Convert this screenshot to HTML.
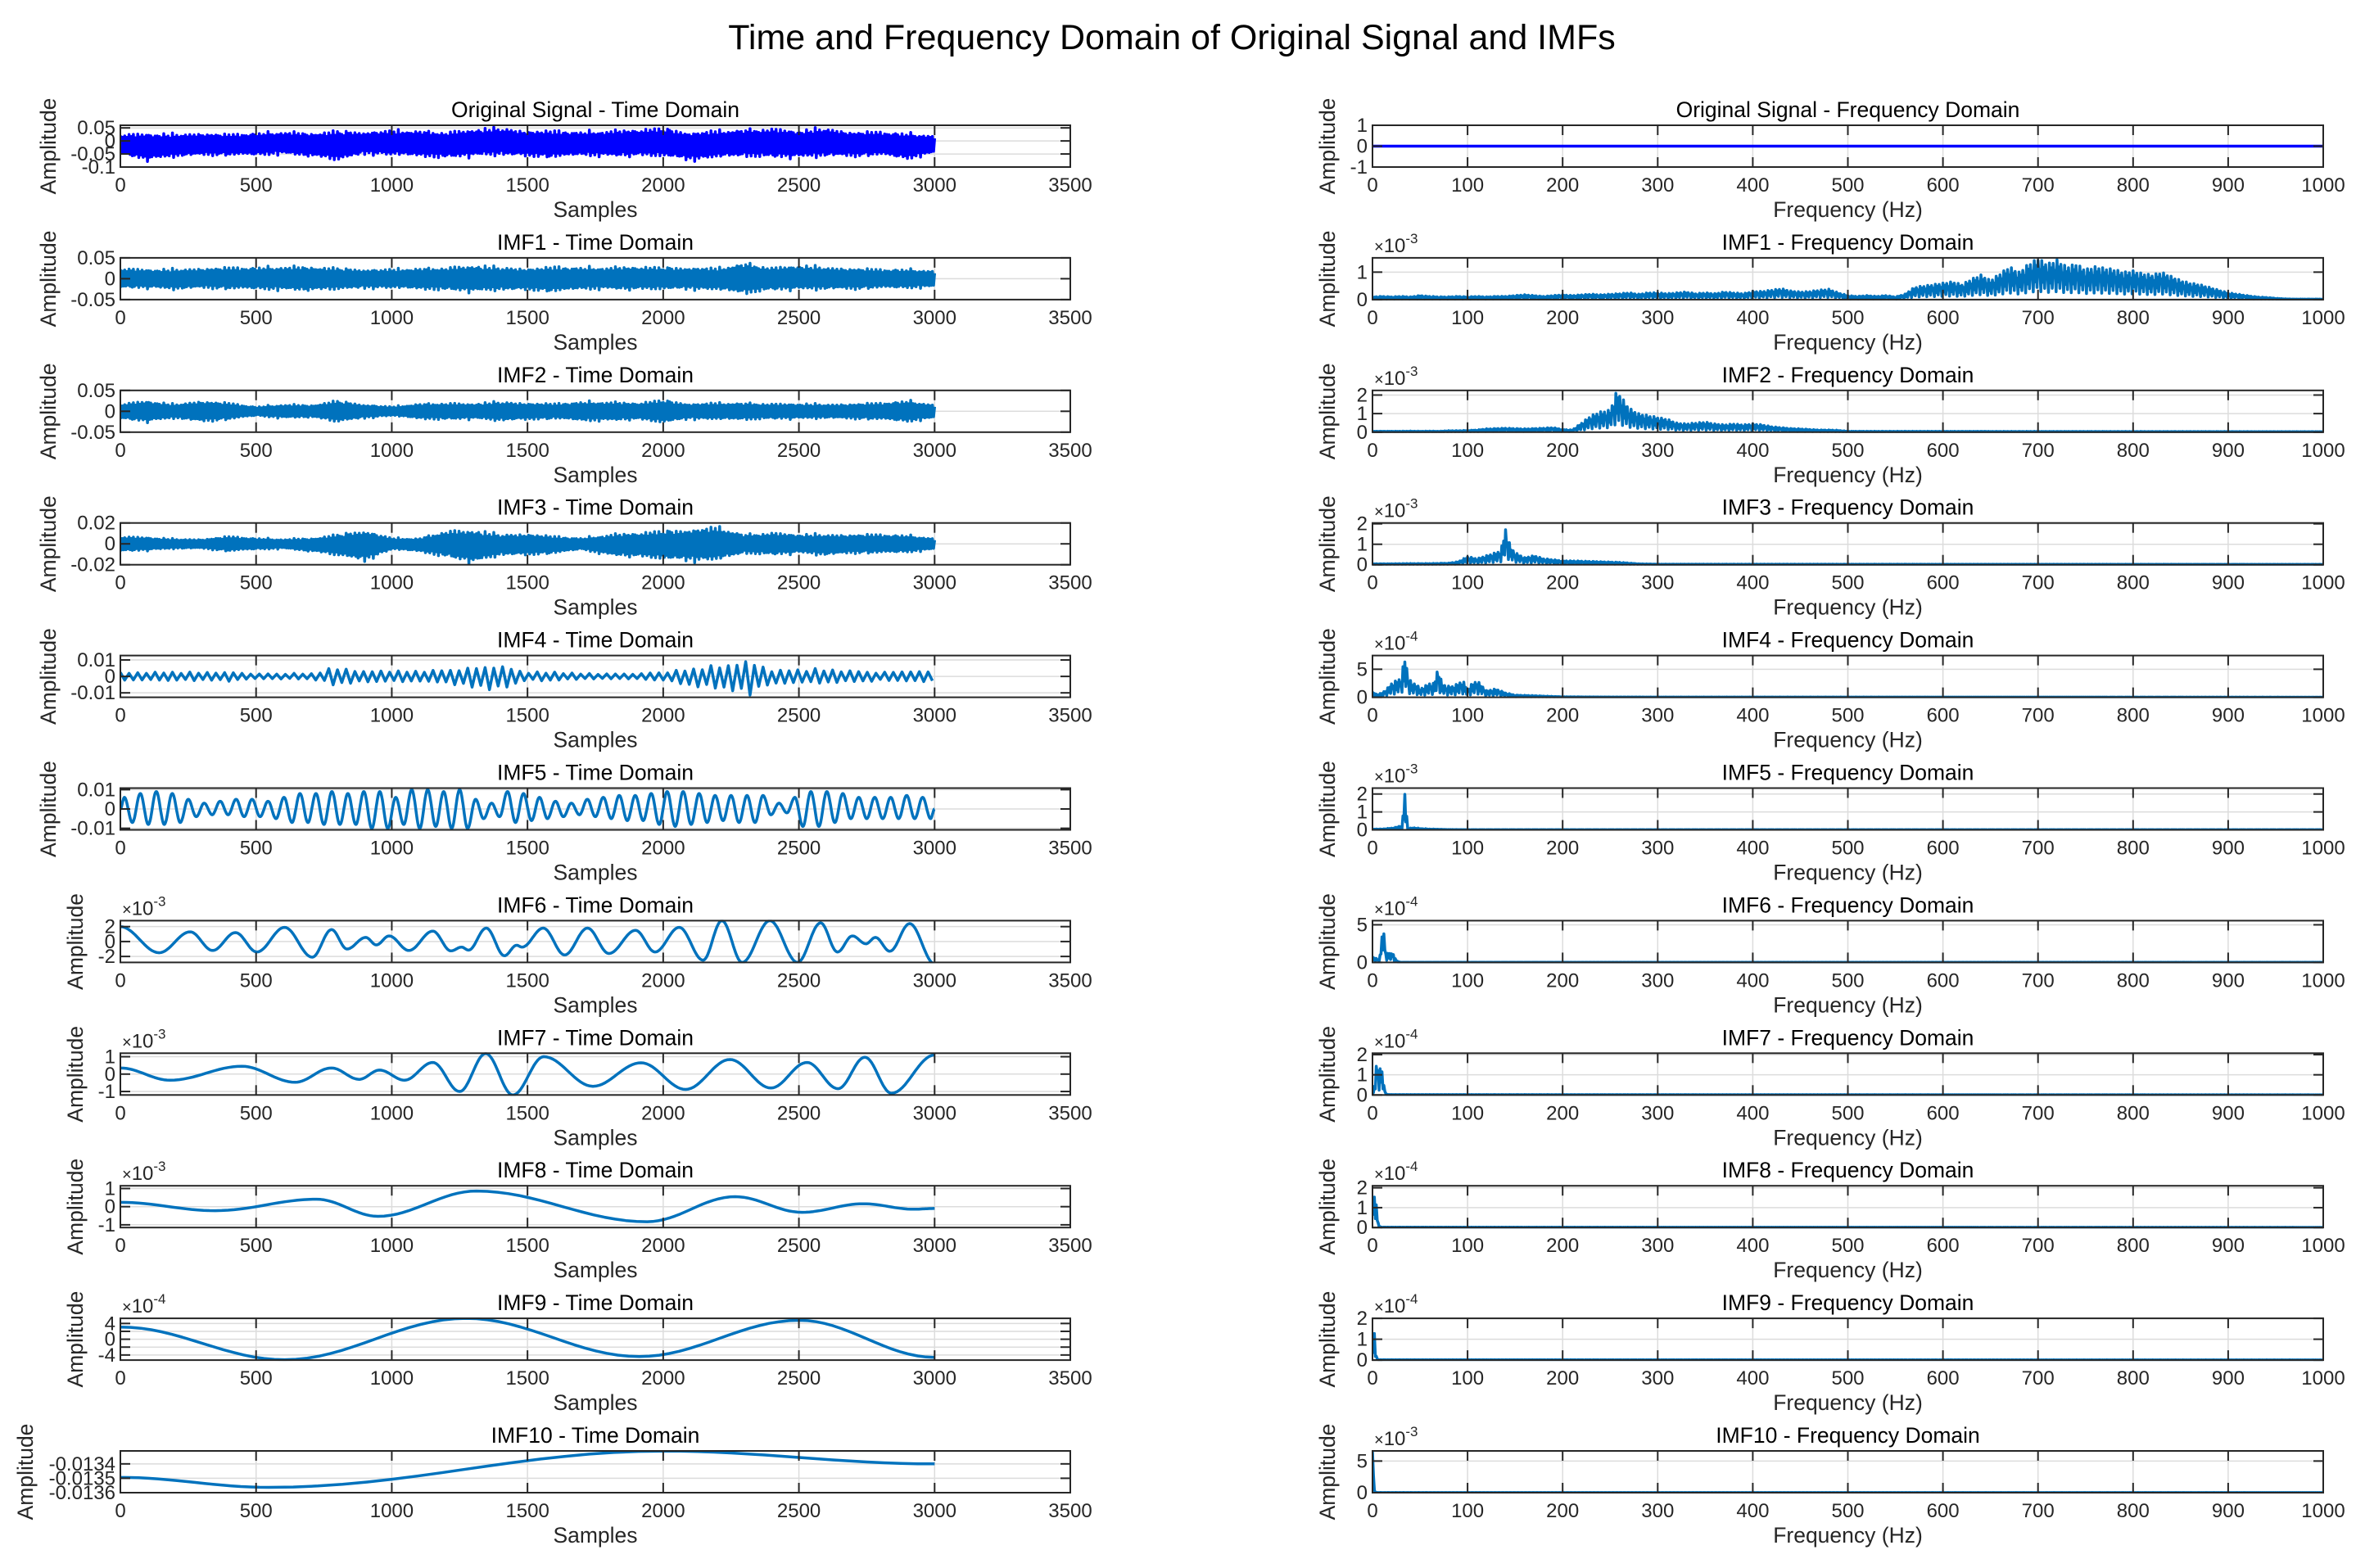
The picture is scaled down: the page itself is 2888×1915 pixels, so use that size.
<!DOCTYPE html>
<html><head><meta charset="utf-8">
<style>
html,body{margin:0;padding:0;background:#fff;}
svg{display:block;font-family:"Liberation Sans",Arial,sans-serif;}
</style></head>
<body>
<svg id="fig" xmlns="http://www.w3.org/2000/svg" width="2888" height="1915" viewBox="0 0 2888 1915">
<rect x="0" y="0" width="2888" height="1915" fill="#ffffff"/>
<text x="1431" y="60" font-size="43" text-anchor="middle" fill="#000">Time and Frequency Domain of Original Signal and IMFs</text>
</svg>
<script>
// ---------- time-domain envelope data (per 100 samples, 0..3000) ----------
const envSamples = [0,100,200,300,400,500,600,700,800,900,1000,1100,1200,1300,1400,1500,1600,1700,1800,1900,2000,2100,2200,2300,2400,2500,2600,2700,2800,2900,3000];
const origUpper = [0.030,0.035,0.030,0.035,0.030,0.035,0.040,0.035,0.045,0.040,0.045,0.045,0.040,0.050,0.055,0.045,0.045,0.040,0.045,0.050,0.055,0.040,0.045,0.050,0.055,0.045,0.055,0.040,0.040,0.035,0.025];
const origLower = [-0.055,-0.080,-0.065,-0.060,-0.060,-0.060,-0.055,-0.065,-0.080,-0.055,-0.060,-0.065,-0.070,-0.065,-0.060,-0.065,-0.070,-0.060,-0.065,-0.065,-0.065,-0.080,-0.070,-0.065,-0.070,-0.070,-0.065,-0.065,-0.060,-0.075,-0.050];
const imf1Upper = [0.028,0.025,0.025,0.028,0.030,0.030,0.032,0.032,0.028,0.025,0.025,0.028,0.030,0.035,0.030,0.028,0.032,0.030,0.030,0.032,0.030,0.030,0.028,0.042,0.030,0.035,0.030,0.028,0.025,0.025,0.022];
const imf1Lower = [-0.025,-0.025,-0.028,-0.025,-0.028,-0.028,-0.030,-0.032,-0.028,-0.025,-0.025,-0.028,-0.030,-0.035,-0.030,-0.030,-0.035,-0.028,-0.028,-0.030,-0.028,-0.028,-0.030,-0.040,-0.030,-0.030,-0.028,-0.028,-0.025,-0.025,-0.022];
const imf2Upper = [0.020,0.028,0.018,0.028,0.022,0.012,0.018,0.016,0.028,0.018,0.012,0.020,0.022,0.020,0.025,0.022,0.020,0.025,0.025,0.022,0.030,0.020,0.022,0.022,0.020,0.020,0.018,0.020,0.022,0.028,0.018];
const imf2Lower = [-0.020,-0.028,-0.018,-0.028,-0.022,-0.012,-0.018,-0.016,-0.028,-0.018,-0.012,-0.020,-0.022,-0.020,-0.025,-0.022,-0.020,-0.025,-0.025,-0.022,-0.030,-0.020,-0.022,-0.022,-0.020,-0.020,-0.018,-0.020,-0.022,-0.028,-0.018];
const imf3Upper = [0.008,0.007,0.005,0.005,0.008,0.006,0.005,0.006,0.010,0.015,0.006,0.006,0.014,0.015,0.010,0.011,0.008,0.006,0.010,0.012,0.014,0.016,0.018,0.010,0.012,0.010,0.010,0.010,0.010,0.009,0.006];
const imf3Lower = [-0.008,-0.007,-0.005,-0.005,-0.008,-0.006,-0.005,-0.008,-0.012,-0.018,-0.006,-0.008,-0.014,-0.020,-0.012,-0.012,-0.010,-0.006,-0.012,-0.014,-0.016,-0.018,-0.018,-0.010,-0.012,-0.010,-0.012,-0.010,-0.010,-0.009,-0.006];
const imf4Upper = [0.003,0.003,0.003,0.003,0.003,0.002,0.002,0.002,0.006,0.004,0.004,0.004,0.005,0.007,0.008,0.003,0.003,0.002,0.002,0.002,0.003,0.006,0.007,0.013,0.005,0.005,0.005,0.004,0.003,0.004,0.004];
const imf4Lower = [-0.003,-0.003,-0.003,-0.003,-0.003,-0.002,-0.002,-0.002,-0.006,-0.004,-0.004,-0.004,-0.005,-0.008,-0.009,-0.003,-0.003,-0.002,-0.002,-0.002,-0.003,-0.007,-0.008,-0.013,-0.006,-0.005,-0.005,-0.004,-0.003,-0.004,-0.004];
// IMF5: per-cycle peak / trough amplitudes (51 cycles over 3000 samples)
const imf5Peaks = [0.006,0.008,0.009,0.008,0.005,0.003,0.004,0.005,0.005,0.004,0.006,0.008,0.008,0.009,0.008,0.009,0.009,0.006,0.010,0.010,0.009,0.010,0.005,0.003,0.009,0.008,0.006,0.004,0.003,0.005,0.006,0.007,0.007,0.008,0.009,0.009,0.008,0.007,0.007,0.007,0.007,0.003,0.006,0.009,0.009,0.008,0.006,0.006,0.006,0.007,0.006];
const imf5Troughs = [-0.007,-0.008,-0.008,-0.007,-0.004,-0.003,-0.003,-0.004,-0.004,-0.005,-0.007,-0.007,-0.008,-0.008,-0.008,-0.010,-0.010,-0.008,-0.010,-0.009,-0.010,-0.010,-0.005,-0.004,-0.007,-0.006,-0.005,-0.004,-0.003,-0.004,-0.005,-0.006,-0.006,-0.008,-0.009,-0.008,-0.007,-0.006,-0.007,-0.007,-0.003,-0.002,-0.009,-0.009,-0.007,-0.005,-0.005,-0.005,-0.005,-0.005,-0.005];
// IMF6..IMF10: extrema (sample, value)
const imf6X = [0,143,257,340,424,503,605,707,778,835,904,943,990,1063,1151,1218,1257,1283,1348,1415,1460,1480,1558,1637,1721,1800,1898,1970,2059,2147,2216,2291,2393,2495,2580,2642,2697,2747,2782,2835,2908,3000];
const imf6Y = [2.0e-3,-1.5e-3,1.3e-3,-1.2e-3,1.2e-3,-1.4e-3,1.9e-3,-2.1e-3,1.6e-3,-1.0e-3,0.55e-3,-0.45e-3,0.75e-3,-1.2e-3,1.4e-3,-1.25e-3,-0.75e-3,-1.15e-3,1.8e-3,-1.9e-3,-0.5e-3,-0.75e-3,1.8e-3,-1.8e-3,1.8e-3,-1.6e-3,1.5e-3,-1.4e-3,1.9e-3,-2.5e-3,2.8e-3,-2.8e-3,2.8e-3,-2.8e-3,2.5e-3,-1.4e-3,0.75e-3,-0.3e-3,0.55e-3,-1.3e-3,2.4e-3,-3.0e-3];
const imf7X = [0,183,448,644,778,880,955,1047,1151,1250,1346,1446,1560,1741,1918,2083,2246,2397,2530,2644,2743,2841,3000];
const imf7Y = [0.35e-3,-0.35e-3,0.45e-3,-0.47e-3,0.35e-3,-0.3e-3,0.23e-3,-0.35e-3,0.67e-3,-1.0e-3,1.18e-3,-1.2e-3,1.0e-3,-0.7e-3,0.65e-3,-0.88e-3,0.84e-3,-0.8e-3,0.67e-3,-0.84e-3,0.97e-3,-1.1e-3,1.1e-3];
const imf8X = [0,350,723,949,1312,1941,2265,2511,2737,2923,3000];
const imf8Y = [0.24e-3,-0.22e-3,0.41e-3,-0.53e-3,0.86e-3,-0.83e-3,0.55e-3,-0.31e-3,0.16e-3,-0.14e-3,-0.1e-3];
const imf9X = [0,605,1273,1912,2501,3000];
const imf9Y = [3.1e-4,-5.2e-4,5.3e-4,-4.4e-4,4.8e-4,-4.6e-4];
const imf10X = [0,546,2000,3000];
const imf10Y = [-0.013494,-0.013563,-0.013311,-0.013400];
// ---------- frequency-domain data ----------
const freq10 = [];for(let i=0;i<=100;i++){freq10.push(i*10);} // 0..1000 Hz grid for IMF1 spectrum
const origFX = [0,1000];
const origFY = [0,0];
const imf1FY = [0.1e-3,0.12e-3,0.1e-3,0.12e-3,0.1e-3,0.15e-3,0.12e-3,0.1e-3,0.1e-3,0.12e-3,0.1e-3,0.12e-3,0.1e-3,0.12e-3,0.12e-3,
0.15e-3,0.18e-3,0.15e-3,0.12e-3,0.15e-3,0.18e-3,0.15e-3,0.18e-3,0.2e-3,0.18e-3,
0.2e-3,0.22e-3,0.25e-3,0.2e-3,0.25e-3,0.25e-3,0.22e-3,0.25e-3,0.28e-3,0.22e-3,0.25e-3,0.22e-3,0.28e-3,0.25e-3,0.22e-3,
0.3e-3,0.3e-3,0.35e-3,0.4e-3,0.32e-3,0.28e-3,0.3e-3,0.35e-3,0.38e-3,0.25e-3,
0.15e-3,0.12e-3,0.15e-3,0.12e-3,0.15e-3,0.1e-3,0.2e-3,0.45e-3,0.5e-3,0.55e-3,
0.6e-3,0.65e-3,0.55e-3,0.75e-3,0.9e-3,0.7e-3,0.95e-3,1.2e-3,1.0e-3,1.3e-3,
1.5e-3,1.3e-3,1.45e-3,1.2e-3,1.3e-3,1.1e-3,1.2e-3,1.15e-3,1.1e-3,1.0e-3,
1.05e-3,0.95e-3,0.9e-3,1.0e-3,0.85e-3,0.7e-3,0.6e-3,0.55e-3,0.45e-3,0.35e-3,
0.25e-3,0.2e-3,0.15e-3,0.1e-3,0.08e-3,0.05e-3,0.03e-3,0.02e-3,0.02e-3,0.02e-3,0.02e-3];
const imf2FX = [0,10,20,30,40,50,60,70,80,90,100,110,120,130,140,150,160,170,180,190,200,210,220,230,240,250,257,270,280,290,300,310,320,330,340,350,360,370,380,390,400,410,420,430,440,450,460,470,480,490,500,1000];
const imf2FY = [0.05e-3,0.05e-3,0.05e-3,0.05e-3,0.06e-3,0.05e-3,0.06e-3,0.05e-3,0.08e-3,0.08e-3,0.1e-3,0.12e-3,0.18e-3,0.2e-3,0.22e-3,0.2e-3,0.18e-3,0.2e-3,0.22e-3,0.25e-3,0.15e-3,0.12e-3,0.5e-3,0.9e-3,1.1e-3,1.2e-3,2.25e-3,1.3e-3,1.0e-3,0.9e-3,0.8e-3,0.7e-3,0.5e-3,0.45e-3,0.5e-3,0.55e-3,0.45e-3,0.4e-3,0.45e-3,0.4e-3,0.45e-3,0.4e-3,0.3e-3,0.25e-3,0.2e-3,0.18e-3,0.15e-3,0.12e-3,0.12e-3,0.1e-3,0.05e-3,0.03e-3];
const imf3FX = [0,20,40,60,80,90,100,110,120,130,135,140,145,150,160,170,180,190,200,220,240,260,280,300,1000];
const imf3FY = [0.05e-3,0.05e-3,0.06e-3,0.06e-3,0.08e-3,0.15e-3,0.4e-3,0.3e-3,0.45e-3,0.6e-3,0.7e-3,1.8e-3,0.9e-3,0.6e-3,0.35e-3,0.45e-3,0.3e-3,0.25e-3,0.2e-3,0.18e-3,0.15e-3,0.12e-3,0.05e-3,0.03e-3,0.02e-3];
const imf4FX = [0,5,10,15,20,25,30,34,38,42,46,50,55,60,65,69,73,78,85,90,95,100,105,110,120,130,140,150,170,200,250,1000];
const imf4FY = [1e-4,0.5e-4,0.8e-4,1.5e-4,2.5e-4,3e-4,3.5e-4,7.4e-4,3.5e-4,2.5e-4,2.5e-4,1.5e-4,2e-4,2.5e-4,2.5e-4,5.5e-4,2.5e-4,2e-4,2e-4,2.5e-4,3e-4,1.5e-4,2.5e-4,3e-4,1.2e-4,1.5e-4,0.8e-4,0.4e-4,0.3e-4,0.1e-4,0.05e-4,0.02e-4];
const imf5FX = [0,10,20,25,28,31,33,34,35,37,40,45,50,60,80,100,1000];
const imf5FY = [0.05e-3,0.05e-3,0.1e-3,0.15e-3,0.2e-3,0.25e-3,1.3e-3,2.33e-3,1.5e-3,0.1e-3,0.1e-3,0.12e-3,0.08e-3,0.05e-3,0.02e-3,0.01e-3,0.01e-3];
const imf6FX = [0,3,6,8,10,11,12,14,16,18,20,22,24,27,30,1000];
const imf6FY = [0.8e-4,0.6e-4,0.5e-4,1e-4,4e-4,5.5e-4,4e-4,1.5e-4,1.2e-4,1.4e-4,1.2e-4,1.4e-4,0.5e-4,0.1e-4,0.02e-4,0.01e-4];
const imf7FX = [0,2,4,5,6,7,8,9,10,11,12,14,16,20,1000];
const imf7FY = [0.05e-4,0.5e-4,1.5e-4,1.75e-4,1.6e-4,1.2e-4,1.3e-4,1.4e-4,1.35e-4,1.0e-4,0.5e-4,0.1e-4,0.03e-4,0.02e-4,0.01e-4];
const imf8FX = [0,1,2,3,4,5,6,8,10,1000];
const imf8FY = [0.6e-4,2.1e-4,1.8e-4,1.5e-4,1.2e-4,0.6e-4,0.3e-4,0.05e-4,0.02e-4,0.01e-4];
const imf9FX = [0,1,2,3,4,6,1000];
const imf9FY = [0.3e-4,2.0e-4,1.5e-4,0.6e-4,0.2e-4,0.02e-4,0.01e-4];
const imf10FX = [0,1,2,3,5,1000];
const imf10FY = [6.5e-3,6.0e-3,0.5e-3,0.05e-3,0.02e-3,0.01e-3];
// ---------- tick labels ----------
const timeXTicks = [0,500,1000,1500,2000,2500,3000,3500];
const freqXTicks = [0,100,200,300,400,500,600,700,800,900,1000];

const NS = 'http://www.w3.org/2000/svg';
const svg = document.getElementById('fig');
function el(tag, attrs, parent){
  const e = document.createElementNS(NS, tag);
  for (const k in attrs) e.setAttribute(k, attrs[k]);
  (parent||svg).appendChild(e);
  return e;
}
function lerp(xs, ys, x){
  if (x <= xs[0]) return ys[0];
  for (let i=1;i<xs.length;i++){
    if (x <= xs[i]){ const t=(x-xs[i-1])/(xs[i]-xs[i-1]); return ys[i-1]+t*(ys[i]-ys[i-1]); }
  }
  return ys[ys.length-1];
}
const BLUE = '#0072BD';
let clipId = 0;

function makeAxes(c){
  const g = el('g', {});
  
  
  const sx = v => c.x + (v - c.xlim[0]) / (c.xlim[1]-c.xlim[0]) * c.w;
  const sy = v => c.y + c.h - (v - c.ylim[0]) / (c.ylim[1]-c.ylim[0]) * c.h;
  el('rect', {x:c.x, y:c.y, width:c.w, height:c.h, fill:'#fff'}, g);
  c.xticks.forEach(t => el('line',{x1:sx(t),x2:sx(t),y1:c.y,y2:c.y+c.h,stroke:'#dcdcdc','stroke-width':1.5},g));
  c.yticks.forEach(t => el('line',{x1:c.x,x2:c.x+c.w,y1:sy(t),y2:sy(t),stroke:'#dcdcdc','stroke-width':1.5},g));
  clipId++;
  const cp = el('clipPath', {id:'cp'+clipId}, g);
  el('rect', {x:c.x, y:c.y-1, width:c.w, height:c.h+2}, cp);
  const sg = el('g', {'clip-path':'url(#cp'+clipId+')'}, g);
  const pts = c.series(sx, sy);
  const path = el('path', {d:'M'+pts.map(p=>p[0].toFixed(1)+','+p[1].toFixed(1)).join('L'), fill:'none', stroke:c.color||BLUE, 'stroke-width':c.lw||3.5, 'stroke-linejoin':'round'}, sg);
  
  
  el('rect', {x:c.x, y:c.y, width:c.w, height:c.h, fill:'none', stroke:'#262626','stroke-width':2}, g);
  const TL = 12;
  c.xticks.forEach(t => {
    el('line',{x1:sx(t),x2:sx(t),y1:c.y+c.h,y2:c.y+c.h-TL,stroke:'#262626','stroke-width':2},g);
    el('line',{x1:sx(t),x2:sx(t),y1:c.y,y2:c.y+TL,stroke:'#262626','stroke-width':2},g);
    const tx = el('text',{x:sx(t),y:c.y+c.h+30,'font-size':24,'text-anchor':'middle',fill:'#262626'},g);
    tx.textContent = String(t);
    
    
  });
  c.yticks.forEach((t,i) => {
    el('line',{x1:c.x,x2:c.x+TL,y1:sy(t),y2:sy(t),stroke:'#262626','stroke-width':2},g);
    el('line',{x1:c.x+c.w,x2:c.x+c.w-TL,y1:sy(t),y2:sy(t),stroke:'#262626','stroke-width':2},g);
    if (c.ylabels[i] === '') return;
    const ty = el('text',{x:c.x-6,y:sy(t)+8,'font-size':24,'text-anchor':'end',fill:'#262626'},g);
    ty.textContent = c.ylabels[i];
    
    
  });
  if (c.exp){
    const ex = el('text',{x:c.x+2,y:c.y-7,'font-size':24,fill:'#262626'},g);
    
    
    const s1 = el('tspan',{'font-size':20},ex); s1.textContent='\u00d7';
    const s2 = el('tspan',{},ex); s2.textContent='10';
    const s3 = el('tspan',{'font-size':17,dy:-11},ex); s3.textContent=c.exp;
  }
  const tt = el('text',{x:c.x+c.w/2,y:c.y-10,'font-size':26.5,'text-anchor':'middle',fill:'#000'},g);
  tt.textContent = c.title;
  
  
  const xl = el('text',{x:c.x+c.w/2,y:c.y+c.h+61,'font-size':26.5,'text-anchor':'middle',fill:'#262626'},g);
  xl.textContent = c.xlabel;
  
  
  const cy = c.y + c.h/2;
  const yl = el('text',{x:c.ylx,y:cy,'font-size':26.5,'text-anchor':'middle',fill:'#262626',transform:'rotate(-90 '+c.ylx+' '+cy+')'},g);
  yl.textContent = 'Amplitude';
  
  
}

// rendering texture pattern (not data)
const pattern = [1,0.45,0.85,0.3,0.95,0.6,0.75,0.2];
const noiseTex = [0.55,0.7,0.4,1.0,0.6,0.5,0.8,0.45,0.65,0.35,0.9,0.55,0.6,0.75,0.4,0.5,0.95,0.6,0.45,0.7,0.5,0.85,0.4,0.6,0.55,0.75,0.45,1.0,0.5,0.65,0.4,0.7,0.6,0.5,0.8,0.45,0.55];
function bandSeries(up, lo, step){
  return (sx, sy) => {
    const p=[]; let k=0;
    for (let s=0; s<=3000; s+=step){
      const u = lerp(envSamples, up, s), l = lerp(envSamples, lo, s);
      const mid = (u+l)/2;
      const f = 0.55 + 0.45*noiseTex[(k*7)%noiseTex.length]*pattern[(k>>1)%pattern.length];
      const v = (k%2===0) ? mid + (u-mid)*f : mid + (l-mid)*f;
      p.push([sx(s), sy(v)]); k++;
    }
    return p;
  };
}
function cosSeries(xs, ys){
  return (sx, sy) => {
    const p=[];
    for (let i=0;i<xs.length-1;i++){
      for (let j=0;j<16;j++){
        const t=j/16, w=(1-Math.cos(Math.PI*t))/2;
        p.push([sx(xs[i]+(xs[i+1]-xs[i])*t), sy(ys[i]+(ys[i+1]-ys[i])*w)]);
      }
    }
    p.push([sx(xs[xs.length-1]), sy(ys[ys.length-1])]);
    return p;
  };
}
function imf5Series(){
  const n = imf5Peaks.length, P = 3000/n;
  const xs=[0], ys=[0];
  for (let i=0;i<n;i++){ xs.push((i+0.25)*P); ys.push(imf5Peaks[i]); xs.push((i+0.75)*P); ys.push(imf5Troughs[i]); }
  xs.push(3000); ys.push(0);
  return cosSeries(xs, ys);
}
function specSeries(fx, fy){
  return (sx, sy) => {
    const p=[]; let k=0;
    for (let f=0; f<=1000; f+=1){
      const v = lerp(fx, fy, f);
      p.push([sx(f), sy(v*pattern[k%pattern.length])]); k++;
    }
    return p;
  };
}

const TLx = 147, TW = 1160, FLx = 1676, FW = 1161, H = 51;
const rowTop = k => 153 + 161.9*k;
const names = ['Original Signal','IMF1','IMF2','IMF3','IMF4','IMF5','IMF6','IMF7','IMF8','IMF9','IMF10'];
const timeCfg = [
  {ylim:[-0.1,0.06], yticks:[-0.1,-0.05,0,0.05], ylabels:['-0.1','-0.05','0','0.05'], series:bandSeries(origUpper,origLower,4), color:'#0000FF', ylx:68},
  {ylim:[-0.05,0.05], yticks:[-0.05,0,0.05], ylabels:['-0.05','0','0.05'], series:bandSeries(imf1Upper,imf1Lower,4), ylx:68},
  {ylim:[-0.05,0.05], yticks:[-0.05,0,0.05], ylabels:['-0.05','0','0.05'], series:bandSeries(imf2Upper,imf2Lower,4), ylx:68},
  {ylim:[-0.02,0.02], yticks:[-0.02,0,0.02], ylabels:['-0.02','0','0.02'], series:bandSeries(imf3Upper,imf3Lower,4), ylx:68},
  {ylim:[-0.0127,0.0127], yticks:[-0.01,0,0.01], ylabels:['-0.01','0','0.01'], series:bandSeries(imf4Upper,imf4Lower,16), ylx:68},
  {ylim:[-0.0108,0.0108], yticks:[-0.01,0,0.01], ylabels:['-0.01','0','0.01'], series:imf5Series(), ylx:68},
  {ylim:[-2.8e-3,2.8e-3], yticks:[-2e-3,0,2e-3], ylabels:['-2','0','2'], exp:'-3', series:cosSeries(imf6X,imf6Y), ylx:101},
  {ylim:[-1.2e-3,1.2e-3], yticks:[-1e-3,0,1e-3], ylabels:['-1','0','1'], exp:'-3', series:cosSeries(imf7X,imf7Y), ylx:101},
  {ylim:[-1.15e-3,1.15e-3], yticks:[-1e-3,0,1e-3], ylabels:['-1','0','1'], exp:'-3', series:cosSeries(imf8X,imf8Y), ylx:101},
  {ylim:[-5.3e-4,5.3e-4], yticks:[-4e-4,-2e-4,0,2e-4,4e-4], ylabels:['-4','','0','','4'], exp:'-4', series:cosSeries(imf9X,imf9Y), ylx:101},
  {ylim:[-0.0136,-0.01331], yticks:[-0.0136,-0.0135,-0.0134], ylabels:['-0.0136','-0.0135','-0.0134'], series:cosSeries(imf10X,imf10Y), ylx:40}
];
const freqCfg = [
  {ylim:[-1,1], yticks:[-1,0,1], ylabels:['-1','0','1'], series:specSeries(origFX,origFY), color:'#0000FF'},
  {ylim:[0,1.52e-3], yticks:[0,1e-3], ylabels:['0','1'], exp:'-3', series:specSeries(freq10,imf1FY)},
  {ylim:[0,2.25e-3], yticks:[0,1e-3,2e-3], ylabels:['0','1','2'], exp:'-3', series:specSeries(imf2FX,imf2FY)},
  {ylim:[0,2.04e-3], yticks:[0,1e-3,2e-3], ylabels:['0','1','2'], exp:'-3', series:specSeries(imf3FX,imf3FY)},
  {ylim:[0,7.45e-4], yticks:[0,5e-4], ylabels:['0','5'], exp:'-4', series:specSeries(imf4FX,imf4FY)},
  {ylim:[0,2.33e-3], yticks:[0,1e-3,2e-3], ylabels:['0','1','2'], exp:'-3', series:specSeries(imf5FX,imf5FY)},
  {ylim:[0,5.55e-4], yticks:[0,5e-4], ylabels:['0','5'], exp:'-4', series:specSeries(imf6FX,imf6FY)},
  {ylim:[0,2.07e-4], yticks:[0,1e-4,2e-4], ylabels:['0','1','2'], exp:'-4', series:specSeries(imf7FX,imf7FY)},
  {ylim:[0,2.1e-4], yticks:[0,1e-4,2e-4], ylabels:['0','1','2'], exp:'-4', series:specSeries(imf8FX,imf8FY)},
  {ylim:[0,2.0e-4], yticks:[0,1e-4,2e-4], ylabels:['0','1','2'], exp:'-4', series:specSeries(imf9FX,imf9FY)},
  {ylim:[0,6.6e-3], yticks:[0,5e-3], ylabels:['0','5'], exp:'-3', series:specSeries(imf10FX,imf10FY)}
];
for (let k=0;k<11;k++){
  const t = timeCfg[k];
  makeAxes(Object.assign({name:(k===0?'original':'imf'+k)+'-time-axes', x:TLx, y:rowTop(k), w:TW, h:H, xlim:[0,3500], xticks:timeXTicks, title:names[k]+' - Time Domain', xlabel:'Samples'}, t));
  const f = freqCfg[k];
  makeAxes(Object.assign({name:(k===0?'original':'imf'+k)+'-frequency-axes', x:FLx, y:rowTop(k), w:FW, h:H, xlim:[0,1000], xticks:freqXTicks, title:names[k]+' - Frequency Domain', xlabel:'Frequency (Hz)', ylx:1630}, f));
}
</script>
</body></html>
